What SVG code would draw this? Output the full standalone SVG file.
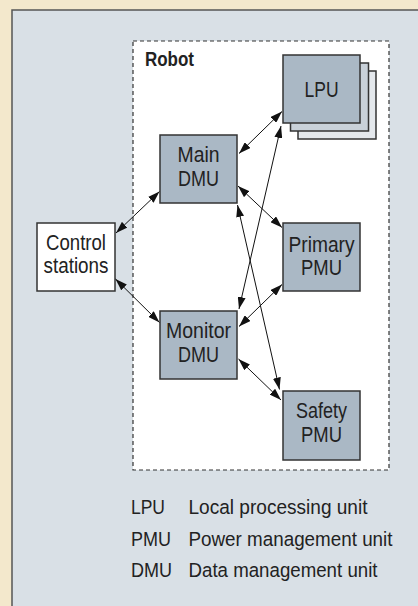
<svg xmlns="http://www.w3.org/2000/svg" width="418" height="606" viewBox="0 0 418 606">
<defs>
<marker id="ah" viewBox="0 0 12 8" refX="12" refY="4" markerWidth="12" markerHeight="8" markerUnits="userSpaceOnUse" orient="auto-start-reverse">
<path d="M0,0 L12,4 L0,8 Z" fill="#111"/>
</marker>
</defs>
<style>
.node{fill:#aab8c5;stroke:#333;stroke-width:1.5}
.t{font-family:"Liberation Sans",Arial,sans-serif;font-size:22px;fill:#222;text-anchor:middle}
.lg{font-family:"Liberation Sans",Arial,sans-serif;font-size:20.5px;fill:#222}
.c{stroke:#111;stroke-width:1;fill:none;marker-start:url(#ah);marker-end:url(#ah)}
</style>
<rect x="0" y="0" width="418" height="606" fill="#f3e8cc"/>
<rect x="12" y="10" width="410" height="600" fill="#d9e0e6" stroke="#555" stroke-width="1.5"/>
<g id="robot">
<rect x="133" y="41" width="256" height="429" fill="#fff" stroke="#333" stroke-width="1.2" stroke-dasharray="4,3"/>
<text x="145" y="65.5" style="font-family:'Liberation Sans',Arial,sans-serif;font-size:20px;font-weight:bold;fill:#222" textLength="49" lengthAdjust="spacingAndGlyphs">Robot</text>
</g>
<g id="lpu">
<rect x="298" y="71" width="78" height="68" fill="#e4e8ec" stroke="#333" stroke-width="1.5"/>
<rect x="290.5" y="63" width="78" height="68" fill="#c9d1d9" stroke="#333" stroke-width="1.5"/>
<rect class="node" x="283" y="55" width="77" height="68"/>
<text class="t" x="321.5" y="97" textLength="34" lengthAdjust="spacingAndGlyphs">LPU</text>
</g>
<g id="main-dmu">
<rect class="node" x="160" y="135" width="77" height="68"/>
<text class="t" x="198.5" y="162" textLength="42" lengthAdjust="spacingAndGlyphs">Main</text>
<text class="t" x="198.5" y="186" textLength="41" lengthAdjust="spacingAndGlyphs">DMU</text>
</g>
<g id="control-stations">
<rect x="37" y="223" width="78" height="68" fill="#fff" stroke="#333" stroke-width="1.5"/>
<text class="t" x="76" y="250" textLength="60" lengthAdjust="spacingAndGlyphs">Control</text>
<text class="t" x="76" y="273" textLength="65" lengthAdjust="spacingAndGlyphs">stations</text>
</g>
<g id="primary-pmu">
<rect class="node" x="283" y="223" width="77" height="68"/>
<text class="t" x="321.5" y="252" textLength="66" lengthAdjust="spacingAndGlyphs">Primary</text>
<text class="t" x="321.5" y="275" textLength="41" lengthAdjust="spacingAndGlyphs">PMU</text>
</g>
<g id="monitor-dmu">
<rect class="node" x="160" y="311" width="77" height="68"/>
<text class="t" x="198.5" y="338" textLength="65" lengthAdjust="spacingAndGlyphs">Monitor</text>
<text class="t" x="198.5" y="362" textLength="41" lengthAdjust="spacingAndGlyphs">DMU</text>
</g>
<g id="safety-pmu">
<rect class="node" x="283" y="391" width="77" height="69"/>
<text class="t" x="321.5" y="418" textLength="51" lengthAdjust="spacingAndGlyphs">Safety</text>
<text class="t" x="321.5" y="442" textLength="41" lengthAdjust="spacingAndGlyphs">PMU</text>
</g>
<g id="connectors">
<line class="c" x1="116" y1="233" x2="159.5" y2="191.5"/>
<line class="c" x1="115.5" y1="279" x2="159.5" y2="322.5"/>
<line class="c" x1="239" y1="153.5" x2="282" y2="111.5"/>
<line class="c" x1="239" y1="309" x2="281" y2="126"/>
<line class="c" x1="238" y1="186" x2="282" y2="227.5"/>
<line class="c" x1="237.5" y1="205" x2="279.5" y2="389.5"/>
<line class="c" x1="239" y1="326.5" x2="282" y2="284.5"/>
<line class="c" x1="238.5" y1="359" x2="281" y2="400"/>
</g>
<g id="legend">
<text class="lg" x="131" y="514" textLength="34" lengthAdjust="spacingAndGlyphs">LPU</text>
<text class="lg" x="188.5" y="514" textLength="179" lengthAdjust="spacingAndGlyphs">Local processing unit</text>
<text class="lg" x="131" y="545.5" textLength="40" lengthAdjust="spacingAndGlyphs">PMU</text>
<text class="lg" x="188.5" y="545.5" textLength="204" lengthAdjust="spacingAndGlyphs">Power management unit</text>
<text class="lg" x="131" y="576.5" textLength="41" lengthAdjust="spacingAndGlyphs">DMU</text>
<text class="lg" x="188.5" y="576.5" textLength="189" lengthAdjust="spacingAndGlyphs">Data management unit</text>
</g>
</svg>
